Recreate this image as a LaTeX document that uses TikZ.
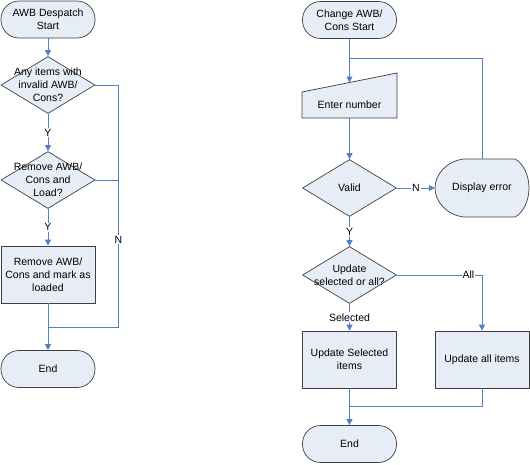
\documentclass[tikz,border=0pt]{standalone}
\usepackage{fontspec}
\setmainfont{Liberation Sans}
\usetikzlibrary{shapes.geometric,arrows.meta,backgrounds}

\definecolor{boxfill}{RGB}{231,237,247}
\definecolor{flowline}{RGB}{79,129,196}
\definecolor{boxline}{RGB}{64,64,64}

\tikzset{
  shapeline/.style={draw=boxline,fill=boxfill,line width=0.7pt},
  base/.style={shapeline,inner sep=1pt,align=center},
  term/.style={base,rectangle,rounded corners=18pt,minimum width=94pt,minimum height=37pt},
  proc/.style={base,rectangle,minimum width=94pt,minimum height=57pt},
  decision/.style={base,diamond,minimum width=94pt,minimum height=57pt,inner sep=0pt},
  dtext/.style={align=center,inner sep=0pt},
  flow/.style={draw=flowline,line width=0.9pt},
  lbl/.style={fill=white,inner sep=1pt},
}

\begin{document}
\begin{tikzpicture}[x=1pt,y=-1pt,>={Triangle[length=6pt,width=6pt]},font=\fontsize{10.5}{13}\selectfont]
  \useasboundingbox (0,0) rectangle (530,464);

  % despatch
  \node[term]     (start1) at (48,19.5)                          {AWB Despatch\\Start};
  \node[decision,label={[dtext]center:Any items with\\invalid AWB/\\Cons?}]
                  (check1) [below of=start1,node distance=65.5pt] {};
  \node[decision,label={[dtext]center:Remove AWB/\\Cons and\\Load?}]
                  (check2) [below of=check1,node distance=95pt]   {};
  \node[proc]     (remove) [below of=check2,node distance=94.5pt] {Remove AWB/\\Cons and mark as\\loaded};
  \node[term]     (end1)   [below of=remove,node distance=94.5pt] {End};
  \coordinate     (join1)  at ([yshift=-52.5pt]remove.center);

  \draw[flow,->] (start1) -- (check1);
  \draw[flow,->] (check1) -- node[lbl] {Y} (check2);
  \draw[flow,->] (check2) -- node[lbl] {Y} (remove);
  \draw[flow] (check1.east) -- ++(23,0) coordinate (nturn)
              -- node[lbl,pos=0.64] {N} (nturn |- join1) -- (join1);
  \draw[flow] (check2.east) -- (check2.east -| nturn);
  \draw[flow] (remove) -- (join1);
  \draw[flow,->] (join1) -- (end1);

  % change
  \node[term]     (start2) at (349.5,20)                          {Change AWB/\\Cons Start};
  \node[inner sep=0pt,minimum width=95pt,minimum height=26pt]
                  (enter)  [below of=start2,node distance=85pt]   {Enter number};
  \coordinate     (entertop) at ([yshift=22.5pt]enter.center);
  \coordinate     (loopj)  at ([yshift=-38pt]start2.center);
  \node[decision] (valid)  [below of=enter,node distance=83pt]    {Valid};
  \node[inner sep=0pt,minimum width=94pt,minimum height=58pt]
                  (disp)   [right of=valid,node distance=132.5pt] {Display error};
  \node[decision,label={[dtext]center:Update\\selected or all?}]
                  (update) [below of=valid,node distance=87pt]    {};
  \node[proc]     (selbox) [below of=update,node distance=84.5pt] {Update Selected\\items};
  \node[proc]     (allbox) [right of=selbox,node distance=132.5pt] {Update all items};
  \node[term]     (end2)   [below of=selbox,node distance=84.5pt] {End};
  \coordinate     (join2)  at ([yshift=-46.5pt]selbox.center);

  \begin{scope}[on background layer]
    \draw[shapeline,shift={(enter.center)}] (-47.5,13) -- (47.5,13) -- (47.5,-32) -- (-47.5,-13) -- cycle;
    \draw[shapeline,shift={(disp.center)}] (-18,-29) -- (33,-29)
      .. controls (41,-25) and (47,-13) .. (47,0)
      .. controls (47,13) and (41,25) .. (33,29) -- (-18,29)
      .. controls (-36,27) and (-47,13) .. (-47,0)
      .. controls (-47,-13) and (-36,-27) .. (-18,-29) -- cycle;
  \end{scope}

  \draw[flow] (start2) -- (loopj);
  \draw[flow,->] (loopj) -- (entertop);
  \draw[flow] (disp.north) |- (loopj);
  \draw[flow,->] (enter) -- (valid);
  \draw[flow,->] (valid) -- node[lbl] {N} (disp);
  \draw[flow,->] (valid) -- node[lbl] {Y} (update);
  \draw[flow,->] (update) -- node[lbl] {Selected} (selbox);
  \draw[flow,->] (update.east) -| node[lbl,pos=0.42] {All} (allbox.north);
  \draw[flow] (selbox) -- (join2);
  \draw[flow] (allbox.south) |- (join2);
  \draw[flow,->] (join2) -- (end2);
\end{tikzpicture}
\end{document}
